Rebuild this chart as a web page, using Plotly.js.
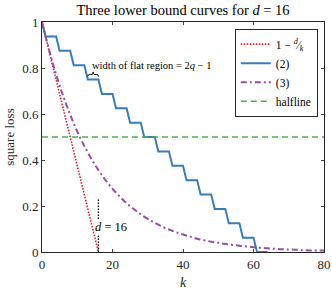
<!DOCTYPE html>
<html>
<head>
<meta charset="utf-8">
<script src="https://cdn.plot.ly/plotly-3.0.1.min.js"></script>
<style>html,body{margin:0;padding:0;background:#fff;}#chart{width:332px;height:293px;}</style>
</head>
<body>
<div id="chart"></div>
<script>
// Red dotted: 1 - k/d
const redX = [0, 16];
const redY = [1, 0];

// Blue step curve (2)
const blueX = [0,1,4,5,8,9,12,13,16,17,20,21,24,25,28,29,32,33,36,37,40,41,44,45,48,49,52,53,56,57,60,61,64];
const blueY = [1,0.9375,0.9375,0.875,0.875,0.8125,0.8125,0.75,0.75,0.6875,0.6875,0.625,0.625,0.5625,0.5625,0.5,0.5,0.4375,0.4375,0.375,0.375,0.3125,0.3125,0.25,0.25,0.1875,0.1875,0.125,0.125,0.0625,0.0625,0,0];

// Purple dash-dot curve (3)
const purpleX = [0,2,4,6,8,10,12,14,16,18,20,22,24,26,28,30,32,34,36,38,40,42,44,46,48,50,52,54,56,58,60,62,64,66,68,70,72,74,76,78,80];
const purpleY = [1,0.879,0.772,0.679,0.597,0.524,0.461,0.405,0.356,0.313,0.275,0.242,0.212,0.187,0.164,0.144,0.127,0.111,0.098,0.086,0.076,0.067,0.058,0.051,0.045,0.040,0.035,0.031,0.027,0.024,0.021,0.018,0.016,0.014,0.012,0.011,0.010,0.008,0.007,0.007,0.006];

// Green halfline
const greenX = [0, 80];
const greenY = [0.5, 0.5];

// d = 16 marker line
const dLineX = [16, 16];
const dLineY = [0, 0.23];

const legendNames = ['1 − <sup><i>d</i></sup>⁄<sub><i>k</i></sub>', '(2)', '(3)', 'halfline'];
const xTicks = [0, 20, 40, 60, 80];
const yTicks = [0, 0.2, 0.4, 0.6, 0.8, 1];
const yTickText = ['0', '0.2', '0.4', '0.6', '0.8', '1'];

const serif = 'Liberation Serif, DejaVu Serif, serif';

const traces = [
  {x: redX, y: redY, mode: 'lines', name: legendNames[0], line: {color: '#e41a1c', width: 1.6, dash: '1.5px,1.5px'}},
  {x: blueX, y: blueY, mode: 'lines', name: legendNames[1], line: {color: '#377eb8', width: 2}},
  {x: purpleX, y: purpleY, mode: 'lines', name: legendNames[2], line: {color: '#984ea3', width: 2, dash: '6px,3px,2px,3px', shape: 'spline'}},
  {x: greenX, y: greenY, mode: 'lines', name: legendNames[3], line: {color: '#4daf4a', width: 1.5, dash: '6px,4px'}},
  {x: dLineX, y: dLineY, mode: 'lines', showlegend: false, line: {color: '#000', width: 1.3, dash: '1.5px,1.5px'}, hoverinfo: 'skip'}
];

const layout = {
  width: 332, height: 293,
  margin: {l: 42, r: 8, t: 22, b: 41},
  paper_bgcolor: '#fff', plot_bgcolor: '#fff',
  font: {family: serif, size: 13, color: '#262626'},
  title: {text: 'Three lower bound curves for <i>d</i> = 16', font: {family: serif, size: 14.5, color: '#000'},
          x: 0.5, xref: 'paper', y: 0.966, yref: 'container', yanchor: 'middle'},
  xaxis: {range: [0, 80], tickvals: xTicks, ticktext: xTicks.map(String), ticks: 'inside', ticklen: 3,
          showline: true, mirror: 'ticks', linecolor: '#262626', linewidth: 1, showgrid: false, zeroline: false,
          tickfont: {family: serif, size: 13, color: '#262626'},
          title: {text: '<i>k</i>', font: {family: serif, size: 14, color: '#262626'}, standoff: 6}},
  yaxis: {range: [0, 1], tickvals: yTicks, ticktext: yTickText, ticks: 'inside', ticklen: 3,
          showline: true, mirror: 'ticks', linecolor: '#262626', linewidth: 1, showgrid: false, zeroline: false,
          tickfont: {family: serif, size: 13, color: '#262626'},
          title: {text: 'square loss', font: {family: serif, size: 13, color: '#262626'}, standoff: 4}},
  legend: {x: 0.978, y: 0.971, xanchor: 'right', yanchor: 'top', bgcolor: '#fff', bordercolor: '#262626', borderwidth: 1,
           font: {family: serif, size: 11.5, color: '#000'}, tracegroupgap: 0, itemwidth: 30},
  shapes: [
    {type: 'path', xref: 'x', yref: 'y',
     path: 'M13,0.763 Q13,0.772 13.5,0.772 L14.2,0.772 Q14.5,0.772 14.5,0.783 Q14.5,0.772 14.8,0.772 L15.5,0.772 Q16,0.772 16,0.763',
     line: {color: '#000', width: 1}}
  ],
  annotations: [
    {x: 13.5, y: 0.809, xref: 'x', yref: 'y', text: 'width of flat region = 2<i>q</i> − 1', showarrow: false,
     xanchor: 'left', yanchor: 'middle', font: {family: serif, size: 10.5, color: '#000'}},
    {x: 19.65, y: 0.11, xref: 'x', yref: 'y', text: '<i>d</i> = 16', showarrow: false,
     xanchor: 'center', yanchor: 'middle', bgcolor: '#fff', borderpad: 0, font: {family: serif, size: 12.5, color: '#000'}}
  ],
  showlegend: true
};

Plotly.newPlot('chart', traces, layout, {displayModeBar: false, staticPlot: true});
</script>
</body>
</html>
